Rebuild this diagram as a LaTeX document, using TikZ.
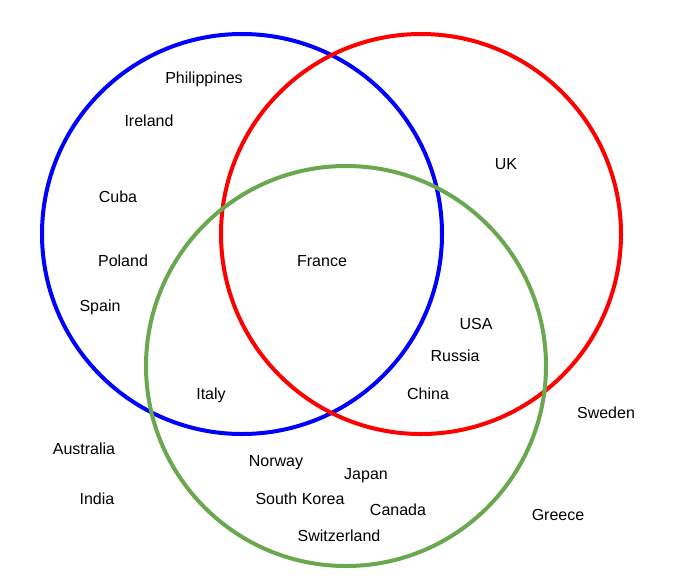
\documentclass[tikz,border=0pt]{standalone}
\usepackage{fontspec}
\setmainfont{Liberation Sans}
\definecolor{vgreen}{HTML}{6AA84F}
\tikzset{
  ring/.style={line width=4pt},
  country/.style={font=\fontsize{16}{19}\selectfont, inner sep=0pt, anchor=base, yshift=-6pt}
}
\begin{document}
\begin{tikzpicture}[x=1pt,y=-1pt]
            \useasboundingbox (0,0) rectangle (679,579);
            
            % Drawing circle A (blue)
            \draw [ring, blue] (242,234) circle (200);%
            
            % Drawing circle B (red)
            \draw [ring, red] (421,234) circle (200);%
            
            % Drawing circle C (green)
            \draw [ring, vgreen] (346,366) circle (200);%
            
            % Marking countries in A only
            \node [country] (philippines) at (204,77) {Philippines};%
            \node [country] (ireland) at (149,120) {Ireland};%
            \node [country] (cuba) at (118,196) {Cuba};%
            \node [country] (poland) at (123,260) {Poland};%
            \node [country] (spain) at (100,305) {Spain};%
            
            % Marking countries in A and B and C
            \node [country] (france) at (322,260) {France};%
            
            % Marking countries in B only
            \node [country] (uk) at (506,163) {UK};%
            
            % Marking countries in B and C
            \node [country] (usa) at (476,323) {USA};%
            \node [country] (russia) at (455,355) {Russia};%
            \node [country] (china) at (428,393) {China};%
            
            % Marking countries in A and C
            \node [country] (italy) at (211,393) {Italy};%
            
            % Marking countries in C only
            \node [country] (norway) at (276,460) {Norway};%
            \node [country] (japan) at (366,473) {Japan};%
            \node [country] (southkorea) at (300,498) {South Korea};%
            \node [country] (canada) at (398,509) {Canada};%
            \node [country] (switzerland) at (339,535) {Switzerland};%
            
            % Marking countries outside
            \node [country] (sweden) at (606,412) {Sweden};%
            \node [country] (australia) at (84,448) {Australia};%
            \node [country] (india) at (97,498) {India};%
            \node [country] (greece) at (558,514) {Greece};%
\end{tikzpicture}
\end{document}
